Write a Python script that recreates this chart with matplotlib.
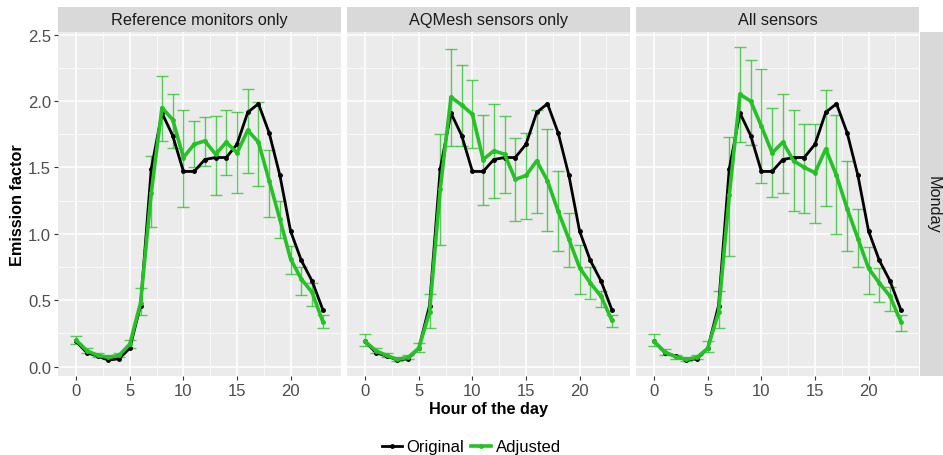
import matplotlib
matplotlib.use("Agg")
import matplotlib.pyplot as plt
from matplotlib.lines import Line2D
import numpy as np

plt.rcParams['font.family'] = ['Liberation Sans', 'DejaVu Sans']

hours = list(range(24))
panels = ["Reference monitors only", "AQMesh sensors only", "All sensors"]
row_label = "Monday"

original = [0.19, 0.105, 0.08, 0.05, 0.06, 0.14, 0.46, 1.49, 1.91, 1.74, 1.47, 1.47,
            1.56, 1.575, 1.575, 1.675, 1.915, 1.98, 1.76, 1.44, 1.02, 0.80, 0.645, 0.43]

adj_ref = [0.20, 0.12, 0.085, 0.07, 0.085, 0.17, 0.48, 1.31, 1.95, 1.86, 1.575, 1.675,
           1.70, 1.60, 1.69, 1.61, 1.78, 1.69, 1.40, 1.11, 0.81, 0.66, 0.56, 0.34]
lo_ref = [0.17, 0.10, 0.07, 0.055, 0.07, 0.14, 0.39, 1.05, 1.70, 1.65, 1.20, 1.50,
          1.51, 1.29, 1.445, 1.31, 1.455, 1.36, 1.13, 0.97, 0.70, 0.54, 0.46, 0.29]
hi_ref = [0.23, 0.14, 0.10, 0.085, 0.10, 0.20, 0.59, 1.59, 2.19, 2.05, 1.93, 1.85,
          1.88, 1.89, 1.93, 1.92, 2.09, 1.995, 1.63, 1.25, 0.91, 0.75, 0.63, 0.39]

adj_aq = [0.19, 0.12, 0.085, 0.055, 0.07, 0.14, 0.41, 1.34, 2.03, 1.97, 1.90, 1.56,
          1.625, 1.60, 1.41, 1.44, 1.55, 1.40, 1.17, 0.96, 0.745, 0.63, 0.53, 0.35]
lo_aq = [0.155, 0.10, 0.07, 0.04, 0.055, 0.11, 0.29, 0.92, 1.66, 1.66, 1.65, 1.22,
         1.27, 1.31, 1.10, 1.11, 1.16, 1.02, 0.87, 0.75, 0.55, 0.51, 0.45, 0.30]
hi_aq = [0.245, 0.14, 0.10, 0.07, 0.085, 0.18, 0.545, 1.75, 2.39, 2.27, 2.16, 1.895,
         1.98, 1.885, 1.72, 1.76, 1.935, 1.79, 1.475, 1.16, 0.92, 0.75, 0.57, 0.39]

adj_all = [0.19, 0.11, 0.075, 0.055, 0.07, 0.14, 0.41, 1.29, 2.05, 2.00, 1.81, 1.61,
           1.69, 1.55, 1.50, 1.46, 1.64, 1.44, 1.19, 0.965, 0.74, 0.63, 0.53, 0.34]
lo_all = [0.155, 0.09, 0.06, 0.04, 0.055, 0.11, 0.29, 0.83, 1.69, 1.67, 1.38, 1.28,
          1.31, 1.17, 1.16, 1.08, 1.21, 1.00, 0.87, 0.75, 0.55, 0.49, 0.42, 0.27]
hi_all = [0.245, 0.13, 0.09, 0.07, 0.085, 0.19, 0.57, 1.73, 2.41, 2.31, 2.24, 1.945,
          2.05, 1.935, 1.83, 1.83, 2.08, 1.895, 1.55, 1.19, 0.90, 0.74, 0.60, 0.39]

adjusted = [adj_ref, adj_aq, adj_all]
lows = [lo_ref, lo_aq, lo_all]
highs = [hi_ref, hi_aq, hi_all]

xticks = [0, 5, 10, 15, 20]
yticks = [0.0, 0.5, 1.0, 1.5, 2.0, 2.5]

W, H = 943, 456
fig = plt.figure(figsize=(W / 100, H / 100), dpi=100)

BG = "#EBEBEB"
STRIP = "#D9D9D9"
GREEN = "#26C126"
TICKC = "#4D4D4D"
FS_TICK = 12
FS_STRIP = 11.7
FS_TITLE = 11.7
FS_LEG = 12

panel_lefts = [58, 347, 636]
panel_w = 283
top, bottom = 33, 377
strip_top = 8

for i, name in enumerate(panels):
    l = panel_lefts[i]
    ax = fig.add_axes([l / W, 1 - bottom / H, panel_w / W, (bottom - top) / H])
    ax.set_facecolor(BG)
    ax.set_xlim(-1.7, 24.7)
    ax.set_ylim(-0.07, 2.52)
    ax.set_xticks(xticks)
    ax.set_xticks([2.5, 7.5, 12.5, 17.5, 22.5], minor=True)
    ax.set_yticks(yticks)
    ax.set_yticks([0.25, 0.75, 1.25, 1.75, 2.25], minor=True)
    ax.grid(which='major', color='white', linewidth=1.1)
    ax.grid(which='minor', color='white', linewidth=0.5)
    ax.set_axisbelow(True)
    for s in ax.spines.values():
        s.set_visible(False)
    ax.tick_params(which='minor', length=0)
    ax.tick_params(which='major', length=3, color='#333333', width=0.8,
                   labelsize=FS_TICK, labelcolor=TICKC, pad=2)
    ax.set_xticklabels([str(t) for t in xticks])
    if i == 0:
        ax.set_yticklabels([f"{t:.1f}" for t in yticks])
        ax.set_ylabel("Emission factor", fontsize=FS_TITLE, fontweight='bold', labelpad=2)
    else:
        ax.tick_params(axis='y', length=0, labelleft=False)
    if i == 1:
        ax.set_xlabel("Hour of the day", fontsize=FS_TITLE, fontweight='bold', labelpad=2.5)

    adj = np.array(adjusted[i])
    lo = np.array(lows[i])
    hi = np.array(highs[i])
    ax.errorbar(hours, adj, yerr=[adj - lo, hi - adj], fmt='none', ecolor=GREEN,
                elinewidth=1.0, capsize=4.0, capthick=1.0, alpha=0.75, zorder=2)
    ax.plot(hours, original, color='black', linewidth=2.0, marker='o',
            markersize=2.5, zorder=3)
    ax.plot(hours, adj, color=GREEN, linewidth=2.6, marker='o',
            markersize=2.5, zorder=4)

    # strip
    sax = fig.add_axes([l / W, 1 - top / H, panel_w / W, (top - strip_top) / H])
    sax.set_facecolor(STRIP)
    sax.set_xticks([]); sax.set_yticks([])
    for s in sax.spines.values():
        s.set_visible(False)
    sax.text(0.5, 0.5, name, ha='center', va='center', fontsize=FS_STRIP,
             color='#1A1A1A', transform=sax.transAxes)

# right strip
rax = fig.add_axes([920 / W, 1 - bottom / H, 23 / W, (bottom - top) / H])
rax.set_facecolor(STRIP)
rax.set_xticks([]); rax.set_yticks([])
for s in rax.spines.values():
    s.set_visible(False)
rax.text(0.55, 0.5, row_label, ha='center', va='center', rotation=-90,
         fontsize=FS_STRIP, color='#1A1A1A', transform=rax.transAxes)

handles = [Line2D([0], [0], color='black', linewidth=2.0, marker='o', markersize=2.5),
           Line2D([0], [0], color=GREEN, linewidth=2.6, marker='o', markersize=2.5)]
leg = fig.legend(handles, ["Original", "Adjusted"], loc='center',
                 bbox_to_anchor=(0.5, 1 - 448 / H), ncol=2, frameon=False,
                 fontsize=FS_LEG, handlelength=1.2, handletextpad=0.3,
                 columnspacing=0.4)

fig.savefig("out.png", dpi=100, facecolor='white')
